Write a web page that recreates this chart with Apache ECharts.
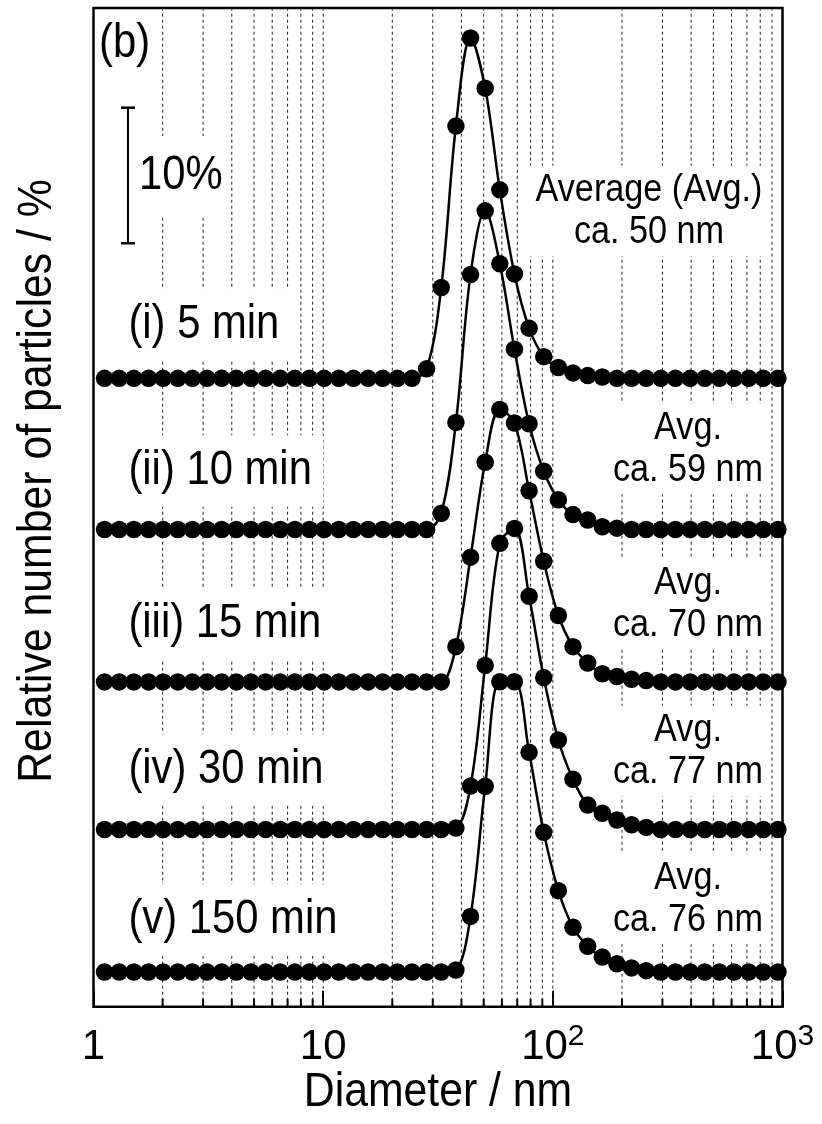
<!DOCTYPE html>
<html>
<head>
<meta charset="utf-8">
<script src="https://cdn.jsdelivr.net/npm/echarts@6/dist/echarts.min.js"></script>
<style>
  html, body { margin: 0; padding: 0; background: #fff; }
  #chart { width: 822px; height: 1124px; }
</style>
</head>
<body>
<div id="chart"></div>
<script>
// Size bins of the particle-size analyser (nm), log spaced
const diameters = [
  1.117, 1.294, 1.499, 1.736, 2.010, 2.328, 2.696, 3.122, 3.615, 4.187, 4.849, 5.615, 6.503, 7.531, 8.721,
  10.10, 11.70, 13.54, 15.69, 18.17, 21.04, 24.36, 28.21, 32.67, 37.84, 43.82, 50.75, 58.77, 68.06, 78.82, 91.28,
  105.7, 122.4, 141.8, 164.2, 190.1, 220.2, 255.0, 295.3, 342.0, 396.1, 458.7, 531.2, 615.1, 712.4, 825.0, 955.4
];

// Relative number of particles (%) per bin for each reaction time
const pct5min = [
  0, 0, 0, 0, 0, 0, 0, 0, 0, 0, 0, 0, 0, 0, 0,
  0, 0, 0, 0, 0, 0, 0, 0.7, 6.7, 18.6, 25.1, 21.4, 13.9, 7.7, 3.7, 1.6,
  0.8, 0.4, 0.2, 0.1, 0, 0, 0, 0, 0, 0, 0, 0, 0, 0, 0, 0
];
const pct10min = [
  0, 0, 0, 0, 0, 0, 0, 0, 0, 0, 0, 0, 0, 0, 0,
  0, 0, 0, 0, 0, 0, 0, 0, 1.2, 7.9, 18.8, 23.5, 19.6, 13.3, 7.8, 4.3,
  2.2, 1.1, 0.7, 0.2, 0.1, 0, 0, 0, 0, 0, 0, 0, 0, 0, 0, 0
];
const pct15min = [
  0, 0, 0, 0, 0, 0, 0, 0, 0, 0, 0, 0, 0, 0, 0,
  0, 0, 0, 0, 0, 0, 0, 0, 0, 2.6, 9.2, 16.2, 20.1, 19.1, 14.1, 8.9,
  4.9, 2.6, 1.4, 0.6, 0.4, 0.2, 0.1, 0, 0, 0, 0, 0, 0, 0, 0, 0
];
const pct30min = [
  0, 0, 0, 0, 0, 0, 0, 0, 0, 0, 0, 0, 0, 0, 0,
  0, 0, 0, 0, 0, 0, 0, 0, 0, 0.1, 3.2, 12.1, 21.1, 22.2, 17.2, 11.2,
  6.6, 3.7, 1.8, 1.2, 0.7, 0.35, 0.15, 0, 0, 0, 0, 0, 0, 0, 0, 0
];
const pct150min = [
  0, 0, 0, 0, 0, 0, 0, 0, 0, 0, 0, 0, 0, 0, 0,
  0, 0, 0, 0, 0, 0, 0, 0, 0, 0.15, 4.1, 13.7, 21.4, 21.4, 16.2, 10.3,
  6.0, 3.3, 1.9, 1.1, 0.6, 0.3, 0.1, 0, 0, 0, 0, 0, 0, 0, 0, 0
];

const curves = [pct5min, pct10min, pct15min, pct30min, pct150min];
// vertical stacking offset of each curve (in % units)
const curveOffsets = [46.34, 35.19, 23.95, 13.07, 2.56];
const timeLabels = ['(i) 5 min', '(ii) 10 min', '(iii) 15 min', '(iv) 30 min', '(v) 150 min'];
const avgLabels = ['Average (Avg.)\nca. 50 nm', 'Avg.\nca. 59 nm', 'Avg.\nca. 70 nm', 'Avg.\nca. 77 nm', 'Avg.\nca. 76 nm'];

// x tick labels and dashed guide lines
const xTickLabels = { 1: '1', 10: '10', 100: '10^2', 1000: '10^3' };
const guideValues = [2, 3, 4, 5, 6, 7, 8, 9, 10, 20, 30, 40, 50, 60, 70, 80, 90, 100,
                     200, 300, 400, 500, 600, 700, 800, 900];
const minorTickValues = [2, 3, 4, 5, 6, 7, 8, 9, 20, 30, 40, 50, 60, 70, 80, 90,
                         200, 300, 400, 500, 600, 700, 800, 900];

// 10 % scale bar: position (nm) and span (%)
const scaleBarX = 1.413;
const scaleBarFrom = 56.3;
const scaleBarSpan = 10;

const Y_MIN = 0, Y_MAX = 73.65;
const FAMILY = '"Liberation Sans", Arial, Helvetica, sans-serif';

const chart = echarts.init(document.getElementById('chart'), null, { renderer: 'canvas' });

const curveSeries = curves.map((vals, i) => ({
  type: 'line',
  name: timeLabels[i],
  data: diameters.map((d, j) => [d, curveOffsets[i] + vals[j]]),
  smooth: 0.35,
  symbol: 'circle',
  symbolSize: 17.5,
  showAllSymbol: true,
  clip: false,
  z: 3,
  itemStyle: { color: '#000' },
  lineStyle: { color: '#000', width: 2.5 },
  emphasis: { disabled: true }
}));

const guideSeries = {
  type: 'custom',
  z: 1,
  silent: true,
  clip: true,
  data: guideValues.map(v => [v, 0]),
  encode: { x: 0, y: 1 },
  renderItem: (params, api) => {
    const v = api.value(0);
    const b = api.coord([v, Y_MIN]);
    const t = api.coord([v, Y_MAX]);
    const children = [{
      type: 'line',
      shape: { x1: b[0], y1: b[1], x2: t[0], y2: t[1] },
      style: { stroke: '#222', lineWidth: 1, lineDash: [3, 3] }
    }];
    if (minorTickValues.indexOf(v) >= 0) {
      children.push({
        type: 'line',
        shape: { x1: b[0], y1: b[1], x2: b[0], y2: b[1] - 8 },
        style: { stroke: '#000', lineWidth: 2 }
      });
    }
    return { type: 'group', children };
  }
};

const scaleBarSeries = {
  type: 'line',
  data: [[scaleBarX, scaleBarFrom], [scaleBarX, scaleBarFrom + scaleBarSpan]],
  symbol: 'rect',
  symbolSize: [14, 2.5],
  z: 3,
  itemStyle: { color: '#000' },
  lineStyle: { color: '#000', width: 2 },
  emphasis: { disabled: true }
};

// text placed at (x, y), slightly stretched vertically like the figure's lettering
function boxText(text, x, y, size, align, padding, lineHeight, rotation) {
  return {
    type: 'text',
    z: 100,
    silent: true,
    x: x, y: y,
    rotation: rotation || 0,
    scaleX: 0.95,
    scaleY: 1.08,
    style: {
      text: text,
      x: 0, y: 0,
      font: size + 'px ' + FAMILY,
      fill: '#000',
      align: align, textAlign: align,
      verticalAlign: 'middle', textVerticalAlign: 'middle',
      lineHeight: lineHeight,
      backgroundColor: padding ? '#fff' : 'transparent',
      padding: padding || 0
    }
  };
}

const leftLabelY = [325, 471, 624, 770, 920];
const rightLabelPos = [[649, 211], [688, 449], [688, 604], [688, 751], [688, 899]];

const graphics = [];
timeLabels.forEach((t, i) => graphics.push(boxText(t, 117, leftLabelY[i], 44, 'left', [11, 12], 44)));
avgLabels.forEach((t, i) => graphics.push(boxText(t, rightLabelPos[i][0], rightLabelPos[i][1], 36, 'center', [3, 8], 39)));
graphics.push(boxText('10%', 137, 176, 44, 'left', [16, 6, 16, 2], 42));
graphics.push(boxText('(b)', 99, 44, 44, 'left', null, 44));
graphics.push(boxText('Relative number of particles / %', 38, 481, 45, 'center', null, 45, Math.PI / 2));
graphics.push(boxText('Diameter / nm', 438, 1093, 45, 'center', null, 46));

const option = {
  animation: false,
  backgroundColor: '#fff',
  grid: {
    left: 93.5, right: 39.5, top: 8, bottom: 117.3,
    show: true, borderColor: '#000', borderWidth: 2.5, backgroundColor: 'transparent'
  },
  xAxis: {
    type: 'log',
    logBase: 10,
    min: 1,
    max: 1000,
    axisLine: { show: false },
    axisTick: { show: true, inside: true, length: 16, lineStyle: { color: '#000', width: 2 } },
    splitLine: { show: false },
    axisLabel: {
      margin: 15,
      color: '#000',
      fontFamily: FAMILY,
      formatter: v => {
        const s = xTickLabels[Math.round(v)];
        if (!s) return '';
        const parts = s.split('^');
        return parts.length > 1 ? '{m|' + parts[0] + '}{s|' + parts[1] + '}' : '{m|' + s + '}';
      },
      rich: {
        m: { fontSize: 42, lineHeight: 52, fontFamily: FAMILY, color: '#000' },
        s: { fontSize: 30, lineHeight: 30, verticalAlign: 'top', fontFamily: FAMILY, color: '#000' }
      }
    }
  },
  yAxis: {
    type: 'value',
    min: Y_MIN,
    max: Y_MAX,
    axisLine: { show: false },
    axisTick: { show: false },
    axisLabel: { show: false },
    splitLine: { show: false }
  },
  graphic: graphics,
  series: [guideSeries, scaleBarSeries].concat(curveSeries)
};

chart.setOption(option);
</script>
</body>
</html>
